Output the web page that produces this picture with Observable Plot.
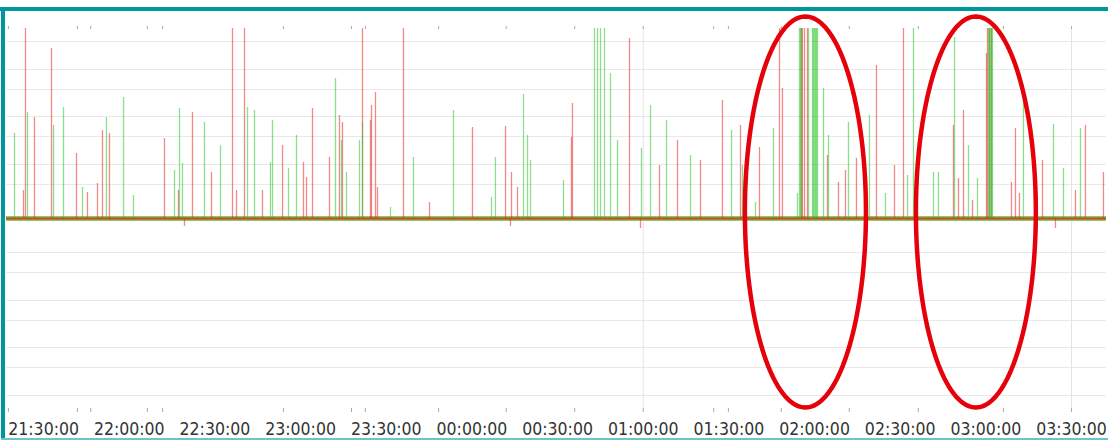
<!DOCTYPE html>
<html>
<head>
<meta charset="utf-8">
<script src="https://cdn.jsdelivr.net/npm/d3@7"></script>
<script src="https://cdn.jsdelivr.net/npm/@observablehq/plot@0.6"></script>
<style>
  html, body { margin: 0; padding: 0; background: #fff; }
  #wrap { position: relative; width: 1108px; height: 440px; overflow: hidden; background: #fff; }
  #wrap svg { position: absolute; left: 0; top: 0; }
  .bd { position: absolute; background: #00969f; }
</style>
</head>
<body>
<div id="wrap"></div>
<script>
// ---- data ----
const labelTimes = ["21:30:00","22:00:00","22:30:00","23:00:00","23:30:00","00:00:00","00:30:00",
  "01:00:00","01:30:00","02:00:00","02:30:00","03:00:00","03:30:00"];
const minorTickTimes = ["21:17:40","21:41:50","21:46:30","22:06:20","22:11:40","22:54:00","23:17:50",
  "23:22:40","23:48:20","00:12:00","00:36:00","01:00:00","01:24:40","01:29:50","01:48:20","02:12:10",
  "02:36:20","03:06:10","03:30:00"];
const gridLevels = [-177,-149,-129,-102,-82,-54,-34,34,54,82,102,129,149,177];
const gridTimes = ["01:00:00","03:30:00"];

// red series spikes: [time, value]
const redSpikes = [
  ["21:22:57",28],["21:23:39",200],["21:26:48",101],["21:32:46",170],["21:41:31",65],["21:45:22",26],
  ["21:48:52",35],["21:50:37",88],["21:53:04",85],["22:12:20",80],["22:17:14",28],["22:19:20",-8],
  ["22:22:08",106],["22:28:48",46],["22:36:09",200],["22:37:33",28],["22:40:21",200],["22:46:39",28],
  ["22:53:40",73],["23:01:01",56],["23:02:04",41],["23:04:10",110],["23:10:07",61],["23:13:37",103],
  ["23:14:40",96],["23:21:41",200],["23:24:29",98],["23:24:50",113],["23:26:14",126],["23:26:56",31],
  ["23:36:02",200],["23:45:09",16],["00:00:12",91],["00:11:46",92],["00:13:31",-8],["00:13:52",46],
  ["00:15:58",31],["00:34:52",81],["00:35:13",115],["00:55:11",180],["00:59:02",-10],["01:05:42",53],
  ["01:12:00",78],["01:20:03",58],["01:27:45",118],["01:34:04",93],["01:40:43",71],["01:47:43",200],
  ["01:48:46",130],["01:55:26",200],["01:55:45",200],["01:56:29",200],["01:57:32",200],["02:04:32",63],
  ["02:08:23",36],["02:10:50",48],["02:14:41",60],["02:21:41",153],["02:28:00",53],["02:31:09",200],
  ["02:48:39",93],["02:50:25",40],["02:52:10",108],["02:55:19",18],["03:00:13",165],["03:00:34",200],
  ["03:01:16",200],["03:01:58",200],["03:08:58",36],["03:10:22",90],["03:11:46",25],["03:19:50",58],
  ["03:24:23",-10],["03:31:23",28],["03:34:53",93],["03:41:11",46]
];

// green series spikes: [time, value]
const greenSpikes = [
  ["21:19:48",85],["21:24:21",106],["21:33:28",93],["21:36:58",111],["21:43:37",31],["21:52:01",101],
  ["21:57:59",121],["22:01:29",23],["22:15:50",48],["22:17:35",110],["22:18:38",55],["22:26:21",96],
  ["22:31:57",73],["22:41:24",111],["22:43:51",108],["22:49:27",56],["22:50:10",98],["22:55:46",50],
  ["22:58:34",83],["23:12:13",140],["23:14:19",78],["23:16:05",46],["23:20:38",78],["23:21:41",96],
  ["23:31:29",11],["23:39:32",61],["23:53:33",108],["00:06:51",21],["00:08:15",61],["00:18:04",124],
  ["00:19:28",83],["00:20:31",58],["00:32:04",38],["00:42:56",200],["00:43:59",200],["00:45:02",200],
  ["00:46:26",200],["00:48:32",145],["00:50:59",78],["00:59:23",70],["01:02:33",113],["01:08:09",98],
  ["01:16:33",63],["01:30:55",88],["01:34:46",53],["01:39:19",16],["01:45:37",90],["01:54:01",25],
  ["01:54:43",200],["01:55:05",200],["01:55:20",200],["01:57:53",200],["01:59:17",200],["01:59:35",200],
  ["01:59:59",200],["02:00:20",200],["02:00:41",200],["02:01:02",200],["02:03:08",130],["02:04:53",83],
  ["02:11:53",96],["02:19:14",103],["02:24:51",25],["02:32:33",43],["02:34:39",200],["02:41:39",46],
  ["02:43:24",46],["02:49:01",181],["02:53:55",73],["02:57:04",40],["03:00:55",200],["03:01:15",200],
  ["03:01:37",200],["03:02:00",200],["03:02:19",200],["03:13:10",121],["03:23:41",94],["03:27:11",50],
  ["03:33:08",90]
];

// ---- drawing ----
function toDate(s) {
  const [h, m, sec] = s.split(":").map(Number);
  return new Date(Date.UTC(2020, 0, h < 12 ? 2 : 1, h, m, sec));
}
const fmt = d3.utcFormat("%H:%M:%S");

// circled windows (annotation): centre time, half-width in minutes
const circled = [["01:56:48", 21.2], ["02:56:30", 21.0]];
const ellipsePts = [];
circled.forEach(([c, hw], id) => {
  const t0 = toDate(c).getTime();
  for (let k = 0; k < 160; k++) {
    const a = (k / 160) * 2 * Math.PI;
    ellipsePts.push({id, t: new Date(t0 + Math.cos(a) * hw * 60000), v: 6.5 + Math.sin(a) * 195.5});
  }
});

const svg = Plot.plot({
  width: 1108,
  height: 440,
  marginTop: 28,
  marginBottom: 32,
  marginLeft: 6,
  marginRight: 2,
  style: {background: "transparent", fontFamily: "'DejaVu Sans Condensed', 'DejaVu Sans', sans-serif", fontSize: "17.5px", color: "#333", overflow: "visible"},
  x: {type: "utc", domain: [toDate("21:17:00"), toDate("03:42:15")]},
  y: {domain: [-190, 190], axis: null},
  marks: [
    Plot.ruleY(gridLevels, {stroke: "#e9e9e9", strokeWidth: 1}),
    Plot.ruleX(gridTimes, {x: d => toDate(d), stroke: "#e3e3e3", strokeWidth: 1}),
    Plot.ruleY([0], {stroke: "#7fae3c", strokeWidth: 4.5}),
    Plot.ruleX(redSpikes, {x: d => toDate(d[0]), y1: 0, y2: d => d[1], stroke: "#e12a22", strokeOpacity: 0.55, strokeWidth: 1.3, clip: true}),
    Plot.ruleX(greenSpikes, {x: d => toDate(d[0]), y1: 0, y2: d => d[1], stroke: "#2fc42f", strokeOpacity: 0.55, strokeWidth: 1.3, clip: true}),
    Plot.ruleY([0], {stroke: "#cf3b2a", strokeWidth: 1.8, strokeOpacity: 0.75}),
    Plot.axisX(minorTickTimes.map(toDate), {anchor: "bottom", tickSize: 4, tickFormat: () => "", stroke: "#aaa", label: null}),
    Plot.axisX(minorTickTimes.map(toDate), {anchor: "top", tickSize: 3, tickFormat: () => "", stroke: "#aaa", label: null}),
    Plot.axisX(labelTimes.map(toDate), {anchor: "bottom", tickSize: 0, tickPadding: 14, tickFormat: fmt, fill: "#333", label: null}),
    Plot.line(ellipsePts, {x: "t", y: "v", z: "id", stroke: "#e5000a", strokeWidth: 4.5, curve: "linear-closed"})
  ]
});

const wrap = document.getElementById("wrap");
wrap.appendChild(svg);
[["0px","7px","1108px","4px"],["1px","7px","4px","433px"]].forEach(([l,t,w,h]) => {
  const d = document.createElement("div");
  d.className = "bd";
  Object.assign(d.style, {left: l, top: t, width: w, height: h});
  wrap.appendChild(d);
});
const bot = document.createElement("div");
bot.className = "bd";
Object.assign(bot.style, {left: "1px", top: "438px", width: "1107px", height: "2px", background: "#6cc4c9"});
wrap.appendChild(bot);
</script>
</body>
</html>
